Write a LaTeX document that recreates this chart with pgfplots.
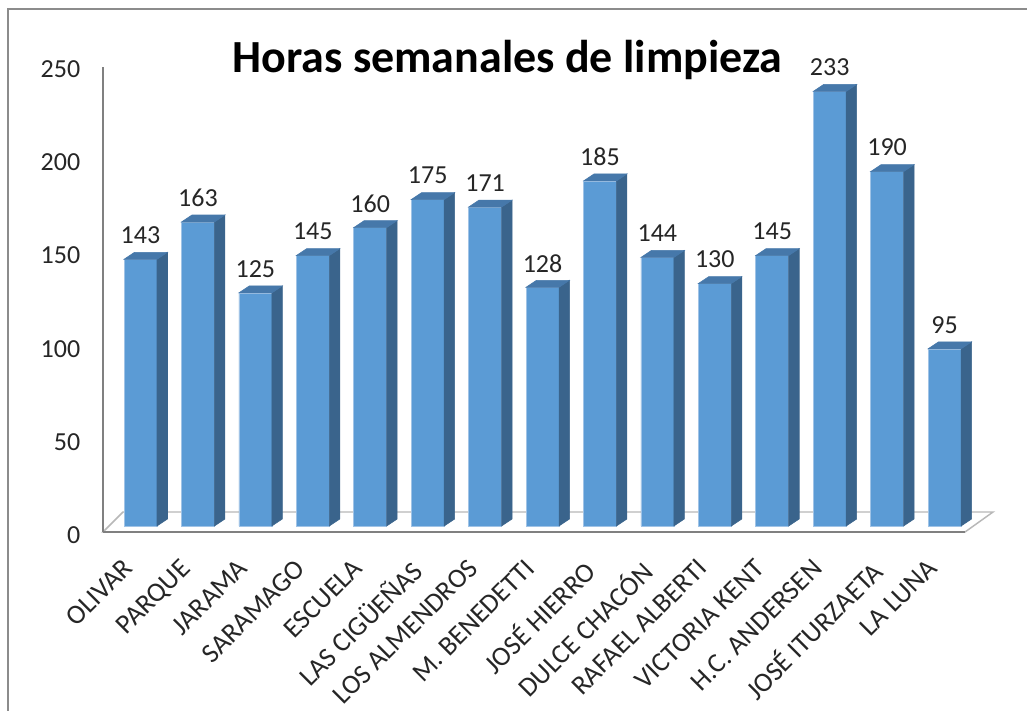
\documentclass[border=0pt]{standalone}
\usepackage{pgfplots}
\pgfplotsset{compat=1.18}
\usepackage{pgfplotstable}
\usepackage{fontspec}
\setmainfont{Carlito}
\definecolor{frontcol}{RGB}{91,155,213}
\definecolor{sidecol}{RGB}{58,100,140}
\definecolor{topcol}{RGB}{70,120,170}
\definecolor{edgecol}{RGB}{160,195,230}
\pgfplotstableread{
x v
0 143
1 163
2 125
3 145
4 160
5 175
6 171
7 128
8 185
9 144
10 130
11 145
12 233
13 190
14 95
}\datatable
\begin{document}
\begin{tikzpicture}
\useasboundingbox (0,0) rectangle (770.25pt,532.5pt);
\fill[white] (0,0) rectangle (770.25pt,532.5pt);
\begin{scope}[x=0.75pt,y=-0.75pt,yshift=532.5pt]
  % border
  \draw[color=black!45,line width=1.2pt] (8,712) -- (8,9) -- (1030,9);
  % floor
  \draw[color=black!28,line width=1.1pt,fill=white] (103,532) -- (965,532) -- (993,512) -- (123,512) -- cycle;
  \draw[color=black!50,line width=1.3pt] (103,532) -- (965,532);
  % vertical axis line
  \draw[color=black!50,line width=1.2pt] (103,532) -- (103,67);
  % title
  \node[anchor=base,font=\fontsize{34.5}{40}\selectfont\bfseries,inner sep=0pt] at (507.5,73) {Horas semanales de limpieza};
\end{scope}
\begin{axis}[
  at={(105.375pt,138pt)}, anchor=origin,
  x=43.0725pt, y=1.39875pt,
  xmin=-0.65, xmax=14.9, ymin=-5, ymax=250,
  clip=false,
  axis line style={draw=none},
  major tick length=0pt,
  ytick={0,50,100,150,200,250},
  xtick={0,...,14},
  xticklabels={OLIVAR,PARQUE,JARAMA,SARAMAGO,ESCUELA,LAS CIGÜEÑAS,LOS ALMENDROS,M. BENEDETTI,JOSÉ HIERRO,DULCE CHACÓN,RAFAEL ALBERTI,VICTORIA KENT,H.C. ANDERSEN,JOSÉ ITURZAETA,LA LUNA},
  /pgf/number format/assume math mode=true,
  yticklabel style={font=\fontsize{19.5}{22}\selectfont, text=black!85, anchor=east, inner sep=0pt, xshift=-17pt, yshift=-7pt},
  xticklabel style={font=\fontsize{20.5}{24}\selectfont, text=black!85, xshift=-14pt, yshift=-16.5pt, rotate=45, anchor=north east, inner sep=0pt},
]
\addplot[ybar, bar width=24.75pt, bar shift=0pt, fill=frontcol, draw=edgecol, line width=0.4pt,
  nodes near coords,
  every node near coord/.append style={anchor=center, yshift=18pt, font=\fontsize{19.5}{22}\selectfont, text=black!85},
] table[x=x,y=v] {\datatable};
\addplot[scatter, only marks, mark=text, text mark={},
  visualization depends on={\thisrow{v} \as \val},
  scatter/@pre marker code/.code={%
    \pgfmathsetmacro\h{-\val*1.39875}%
    \pgfmathsetmacro\hh{5.25-\val*1.39875}%
    \fill[sidecol] (12.375pt,0pt) -- (20.25pt,5.25pt) -- (20.25pt,\hh pt) -- (12.375pt,\h pt) -- cycle;
    \fill[topcol] (-12.375pt,0pt) -- (-4.5pt,5.25pt) -- (20.25pt,5.25pt) -- (12.375pt,0pt) -- cycle;
  },
  scatter/@post marker code/.code={},
] table[x=x,y=v] {\datatable};
\end{axis}
\end{tikzpicture}
\end{document}
